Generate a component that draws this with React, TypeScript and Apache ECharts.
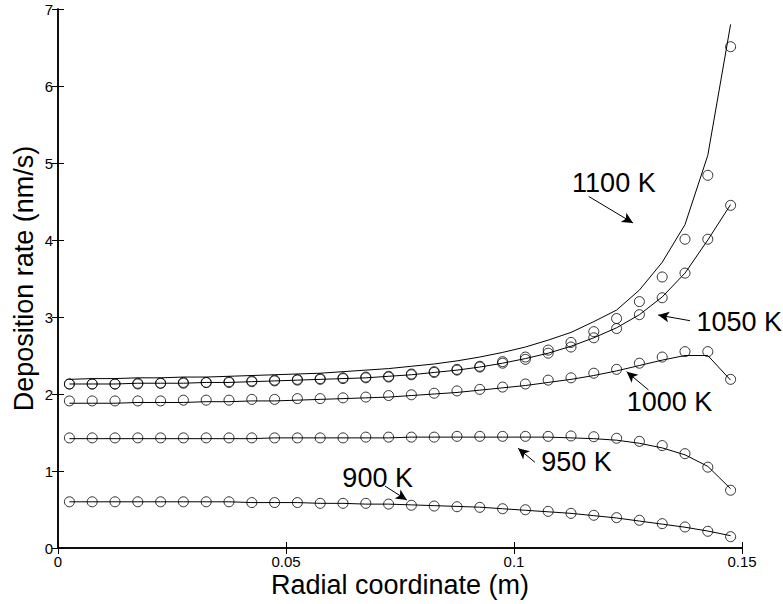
import React, { useEffect, useRef } from "react";
import * as echarts from "echarts";

const RADIUS = [
  0.0025, 0.0075, 0.0125, 0.0175, 0.0225, 0.0275, 0.0325, 0.0375, 0.0425, 0.0475,
  0.0525, 0.0575, 0.0625, 0.0675, 0.0725, 0.0775, 0.0825, 0.0875, 0.0925, 0.0975,
  0.1025, 0.1075, 0.1125, 0.1175, 0.1225, 0.1275, 0.1325, 0.1375, 0.1425, 0.1475,
];

// model curves (solid lines)
const LINE_900 = [0.6, 0.6, 0.6, 0.6, 0.6, 0.6, 0.6, 0.6, 0.59, 0.59, 0.59, 0.58, 0.58, 0.57, 0.57, 0.56, 0.55, 0.54, 0.53, 0.51, 0.49, 0.47, 0.45, 0.42, 0.39, 0.35, 0.31, 0.27, 0.22, 0.16];
const LINE_950 = [1.42, 1.42, 1.42, 1.42, 1.42, 1.42, 1.42, 1.42, 1.42, 1.43, 1.43, 1.43, 1.43, 1.43, 1.43, 1.44, 1.44, 1.44, 1.44, 1.44, 1.44, 1.44, 1.43, 1.42, 1.4, 1.36, 1.3, 1.21, 1.06, 0.77];
const LINE_1000 = [1.88, 1.88, 1.88, 1.89, 1.89, 1.89, 1.9, 1.9, 1.91, 1.91, 1.92, 1.93, 1.94, 1.95, 1.96, 1.98, 2.0, 2.02, 2.05, 2.08, 2.11, 2.15, 2.19, 2.24, 2.3, 2.37, 2.44, 2.5, 2.5, 2.18];
const LINE_1050 = [2.13, 2.13, 2.13, 2.14, 2.14, 2.14, 2.15, 2.15, 2.16, 2.17, 2.18, 2.19, 2.2, 2.21, 2.23, 2.25, 2.28, 2.31, 2.35, 2.4, 2.46, 2.53, 2.62, 2.73, 2.86, 3.03, 3.26, 3.57, 4.0, 4.46];
const LINE_1100 = [2.19, 2.2, 2.2, 2.21, 2.21, 2.22, 2.22, 2.23, 2.24, 2.25, 2.26, 2.27, 2.29, 2.31, 2.33, 2.36, 2.39, 2.43, 2.48, 2.54, 2.61, 2.7, 2.8, 2.94, 3.09, 3.35, 3.71, 4.2, 5.1, 6.8];

// measured points (open circles)
const PTS_900 = [0.6, 0.6, 0.6, 0.6, 0.6, 0.6, 0.6, 0.6, 0.59, 0.59, 0.59, 0.58, 0.58, 0.58, 0.57, 0.555, 0.545, 0.536, 0.528, 0.51, 0.497, 0.476, 0.45, 0.425, 0.394, 0.36, 0.316, 0.273, 0.217, 0.147];
const PTS_950 = [1.43, 1.43, 1.43, 1.43, 1.43, 1.43, 1.43, 1.43, 1.43, 1.43, 1.43, 1.43, 1.43, 1.44, 1.44, 1.44, 1.44, 1.45, 1.45, 1.45, 1.45, 1.45, 1.455, 1.445, 1.425, 1.385, 1.33, 1.225, 1.05, 0.75];
const PTS_1000 = [1.91, 1.91, 1.91, 1.91, 1.91, 1.92, 1.92, 1.92, 1.93, 1.93, 1.94, 1.94, 1.95, 1.96, 1.98, 1.99, 2.01, 2.04, 2.06, 2.09, 2.13, 2.18, 2.21, 2.27, 2.32, 2.4, 2.48, 2.55, 2.55, 2.19];
const PTS_1050 = [2.13, 2.13, 2.13, 2.13, 2.14, 2.14, 2.15, 2.15, 2.16, 2.17, 2.18, 2.19, 2.2, 2.21, 2.22, 2.25, 2.28, 2.31, 2.35, 2.4, 2.45, 2.53, 2.61, 2.73, 2.85, 3.03, 3.25, 3.57, 4.01, 4.45];
const PTS_1100 = [2.13, 2.13, 2.13, 2.14, 2.14, 2.15, 2.15, 2.16, 2.17, 2.18, 2.19, 2.2, 2.21, 2.22, 2.23, 2.26, 2.29, 2.32, 2.36, 2.42, 2.48, 2.57, 2.67, 2.81, 2.98, 3.2, 3.52, 4.01, 4.84, 6.51];

// annotations in data coordinates
const LABEL_TEXT = ["1100 K", "1050 K", "1000 K", "950 K", "900 K"];
const LABEL_AT = [[0.1219, 4.74], [0.1494, 2.94], [0.1341, 1.896], [0.1137, 1.121], [0.0701, 0.905]];
const ARROW_FROM = [[0.1164, 4.565], [0.1386, 2.952], [0.1295, 2.052], [0.1046, 1.113], [0.0717, 0.805]];
const ARROW_TO = [[0.1261, 4.221], [0.1316, 3.026], [0.1247, 2.29], [0.1009, 1.295], [0.0765, 0.623]];

const X_TITLE = "Radial coordinate (m)";
const Y_TITLE = "Deposition rate (nm/s)";

const FONT = "'Liberation Sans', Arial, Helvetica, sans-serif";

const pair = (ys: number[]) => RADIUS.map((x, i) => [x, ys[i]]);

export default function App() {
  const ref = useRef<HTMLDivElement>(null);
  useEffect(() => {
    document.body.style.margin = "0";
    const chart = echarts.init(ref.current!, null, { renderer: "svg" });
    const axisLine = { show: true, lineStyle: { color: "#000", width: 1.5 } };
    const tick = { show: true, inside: true, length: 6, lineStyle: { color: "#000", width: 1 } };
    const fmt = (v: number) => String(parseFloat(v.toFixed(3)));
    const lineSeries = (ys: number[]) => ({
      type: "line",
      data: pair(ys),
      showSymbol: false,
      symbol: "none",
      lineStyle: { color: "#000", width: 1 },
      silent: true,
      z: 2,
    });
    const ptSeries = (ys: number[]) => ({
      type: "scatter",
      data: pair(ys),
      symbol: "circle",
      symbolSize: 10,
      itemStyle: { color: "rgba(0,0,0,0)", borderColor: "#000", borderWidth: 1 },
      silent: true,
      z: 3,
    });
    chart.setOption({
      animation: false,
      backgroundColor: "#fff",
      textStyle: { fontFamily: FONT },
      grid: { left: 58, right: 41, top: 9, bottom: 56, containLabel: false, outerBoundsMode: "none" },
      xAxis: [
        {
          type: "value", min: 0, max: 0.15, interval: 0.05, position: "bottom",
          axisLine, axisTick: tick, splitLine: { show: false },
          axisLabel: { color: "#000", fontSize: 15, margin: 6, formatter: fmt, fontFamily: FONT },
        },
        {
          type: "value", min: 0, max: 0.15, interval: 0.05, position: "top",
          axisLine, axisTick: tick, splitLine: { show: false }, axisLabel: { show: false },
        },
      ],
      yAxis: [
        {
          type: "value", min: 0, max: 7, interval: 1, position: "left",
          axisLine, axisTick: tick, splitLine: { show: false },
          axisLabel: { color: "#000", fontSize: 15, margin: 5, fontFamily: FONT },
        },
        {
          type: "value", min: 0, max: 7, interval: 1, position: "right",
          axisLine, axisTick: tick, splitLine: { show: false }, axisLabel: { show: false },
        },
      ],
      series: [
        lineSeries(LINE_900), lineSeries(LINE_950), lineSeries(LINE_1000),
        lineSeries(LINE_1050), lineSeries(LINE_1100),
        ptSeries(PTS_900), ptSeries(PTS_950), ptSeries(PTS_1000),
        ptSeries(PTS_1050), ptSeries(PTS_1100),
        {
          type: "line",
          data: [],
          silent: true,
          markLine: {
            silent: true,
            symbol: ["none", "arrow"],
            symbolSize: [8, 11],
            label: { show: false },
            lineStyle: { color: "#000", width: 1, type: "solid" },
            data: ARROW_FROM.map((f, i) => [{ coord: f }, { coord: ARROW_TO[i] }]),
          },
        },
      ],
    });
    const toPx = (d: number[]) =>
      chart.convertToPixel({ xAxisIndex: 0, yAxisIndex: 0 }, d) as number[];
    const graphic: any[] = LABEL_TEXT.map((t, i) => {
      const p = toPx(LABEL_AT[i]);
      return {
        type: "text",
        x: p[0],
        y: p[1],
        silent: true,
        style: { text: t, fill: "#000", font: `27px ${FONT}`, align: "center", verticalAlign: "middle" },
        z: 10,
      };
    });
    const lo = toPx([0, 0]);
    const hi = toPx([0.15, 7]);
    graphic.push({
      type: "text",
      x: (lo[0] + hi[0]) / 2,
      y: lo[1] + 37,
      silent: true,
      style: { text: X_TITLE, fill: "#000", font: `27px ${FONT}`, align: "center", verticalAlign: "middle" },
      z: 10,
    });
    graphic.push({
      type: "text",
      x: lo[0] - 34,
      y: (lo[1] + hi[1]) / 2,
      rotation: Math.PI / 2,
      silent: true,
      style: { text: Y_TITLE, fill: "#000", font: `27px ${FONT}`, align: "center", verticalAlign: "middle" },
      z: 10,
    });
    chart.setOption({ graphic });
    return () => chart.dispose();
  }, []);
  return <div ref={ref} style={{ width: 783, height: 604 }} />;
}
